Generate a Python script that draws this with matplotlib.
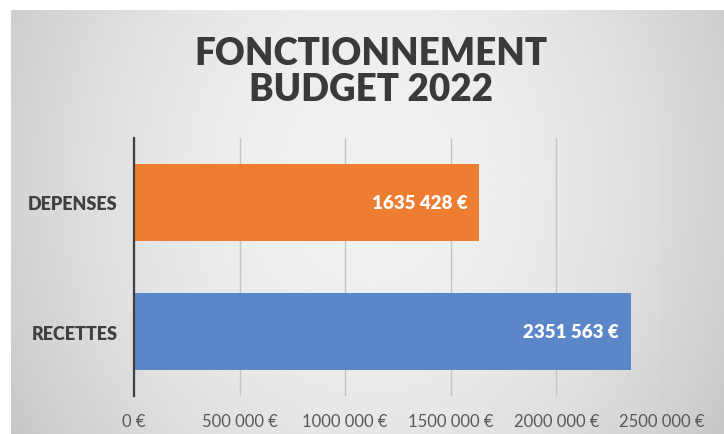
import numpy as np
import matplotlib

matplotlib.use("Agg")
import matplotlib.pyplot as plt

categories = ["RECETTES", "DEPENSES"]
values = [2351563, 1635428]
bar_colors = ["#5B87C9", "#ED7D31"]
x_ticks = [0, 500000, 1000000, 1500000, 2000000, 2500000]
title = "FONCTIONNEMENT\nBUDGET 2022"


def euro(v):
    """French style amount as printed on the chart: 1635 428 €"""
    v = int(v)
    if v >= 1000:
        return f"{v // 1000} {v % 1000:03d} €"
    return f"{v} €"


W, H = 724, 435
fig = plt.figure(figsize=(W / 100, H / 100), dpi=100)
fig.patch.set_facecolor("white")

# grey gradient panel behind the chart
bg = fig.add_axes([11 / W, 0, 1 - 11 / W, (H - 11) / H], zorder=-1)
yy, xx = np.mgrid[-1:1:200j, -1:1:300j]
shade = 0.945 - 0.12 * xx ** 2 - 0.03 * (yy + 0.2) ** 2
bg.imshow(shade, cmap="gray", vmin=0, vmax=1, aspect="auto", extent=[0, 1, 0, 1])
bg.axis("off")

left, right = 134, 662
top, bottom = 139, 397
ax = fig.add_axes([left / W, (H - bottom) / H, (right - left) / W, (bottom - top) / H])
ax.set_facecolor("none")

ypos = [0.5, 1.5]
ax.barh(ypos, values, height=0.6, color=bar_colors, zorder=3)

for y, v in zip(ypos, values):
    ax.annotate(euro(v), xy=(v, y), xytext=(-12, 0), textcoords="offset pixels",
                ha="right", va="center", color="white", fontsize=13.5,
                fontweight="heavy", family="Lato", zorder=4)

ax.set_xlim(0, 2500000)
ax.set_ylim(0, 2)
ax.set_xticks(x_ticks)
ax.set_xticklabels([euro(t) for t in x_ticks], family="Lato", fontsize=12, color="#595959")
ax.set_yticks(ypos)
ax.set_yticklabels(categories, family="Lato", fontsize=13, fontweight="heavy", color="#404040")
ax.tick_params(axis="both", length=0)
ax.tick_params(axis="x", pad=12)
ax.tick_params(axis="y", pad=12)

ax.grid(axis="x", color="#c4c4c4", linewidth=1, zorder=0)
for side in ["top", "right", "bottom"]:
    ax.spines[side].set_visible(False)
ax.spines["left"].set_color("#404040")
ax.spines["left"].set_linewidth(1.6)
ax.spines["left"].set_zorder(5)

fig.text(371 / W, 1 - 72 / H, title, ha="center", va="center", fontsize=26.5,
         fontweight="heavy", family="Lato", color="#3a3a3a", linespacing=1.1)

fig.savefig("out.png", dpi=100)
